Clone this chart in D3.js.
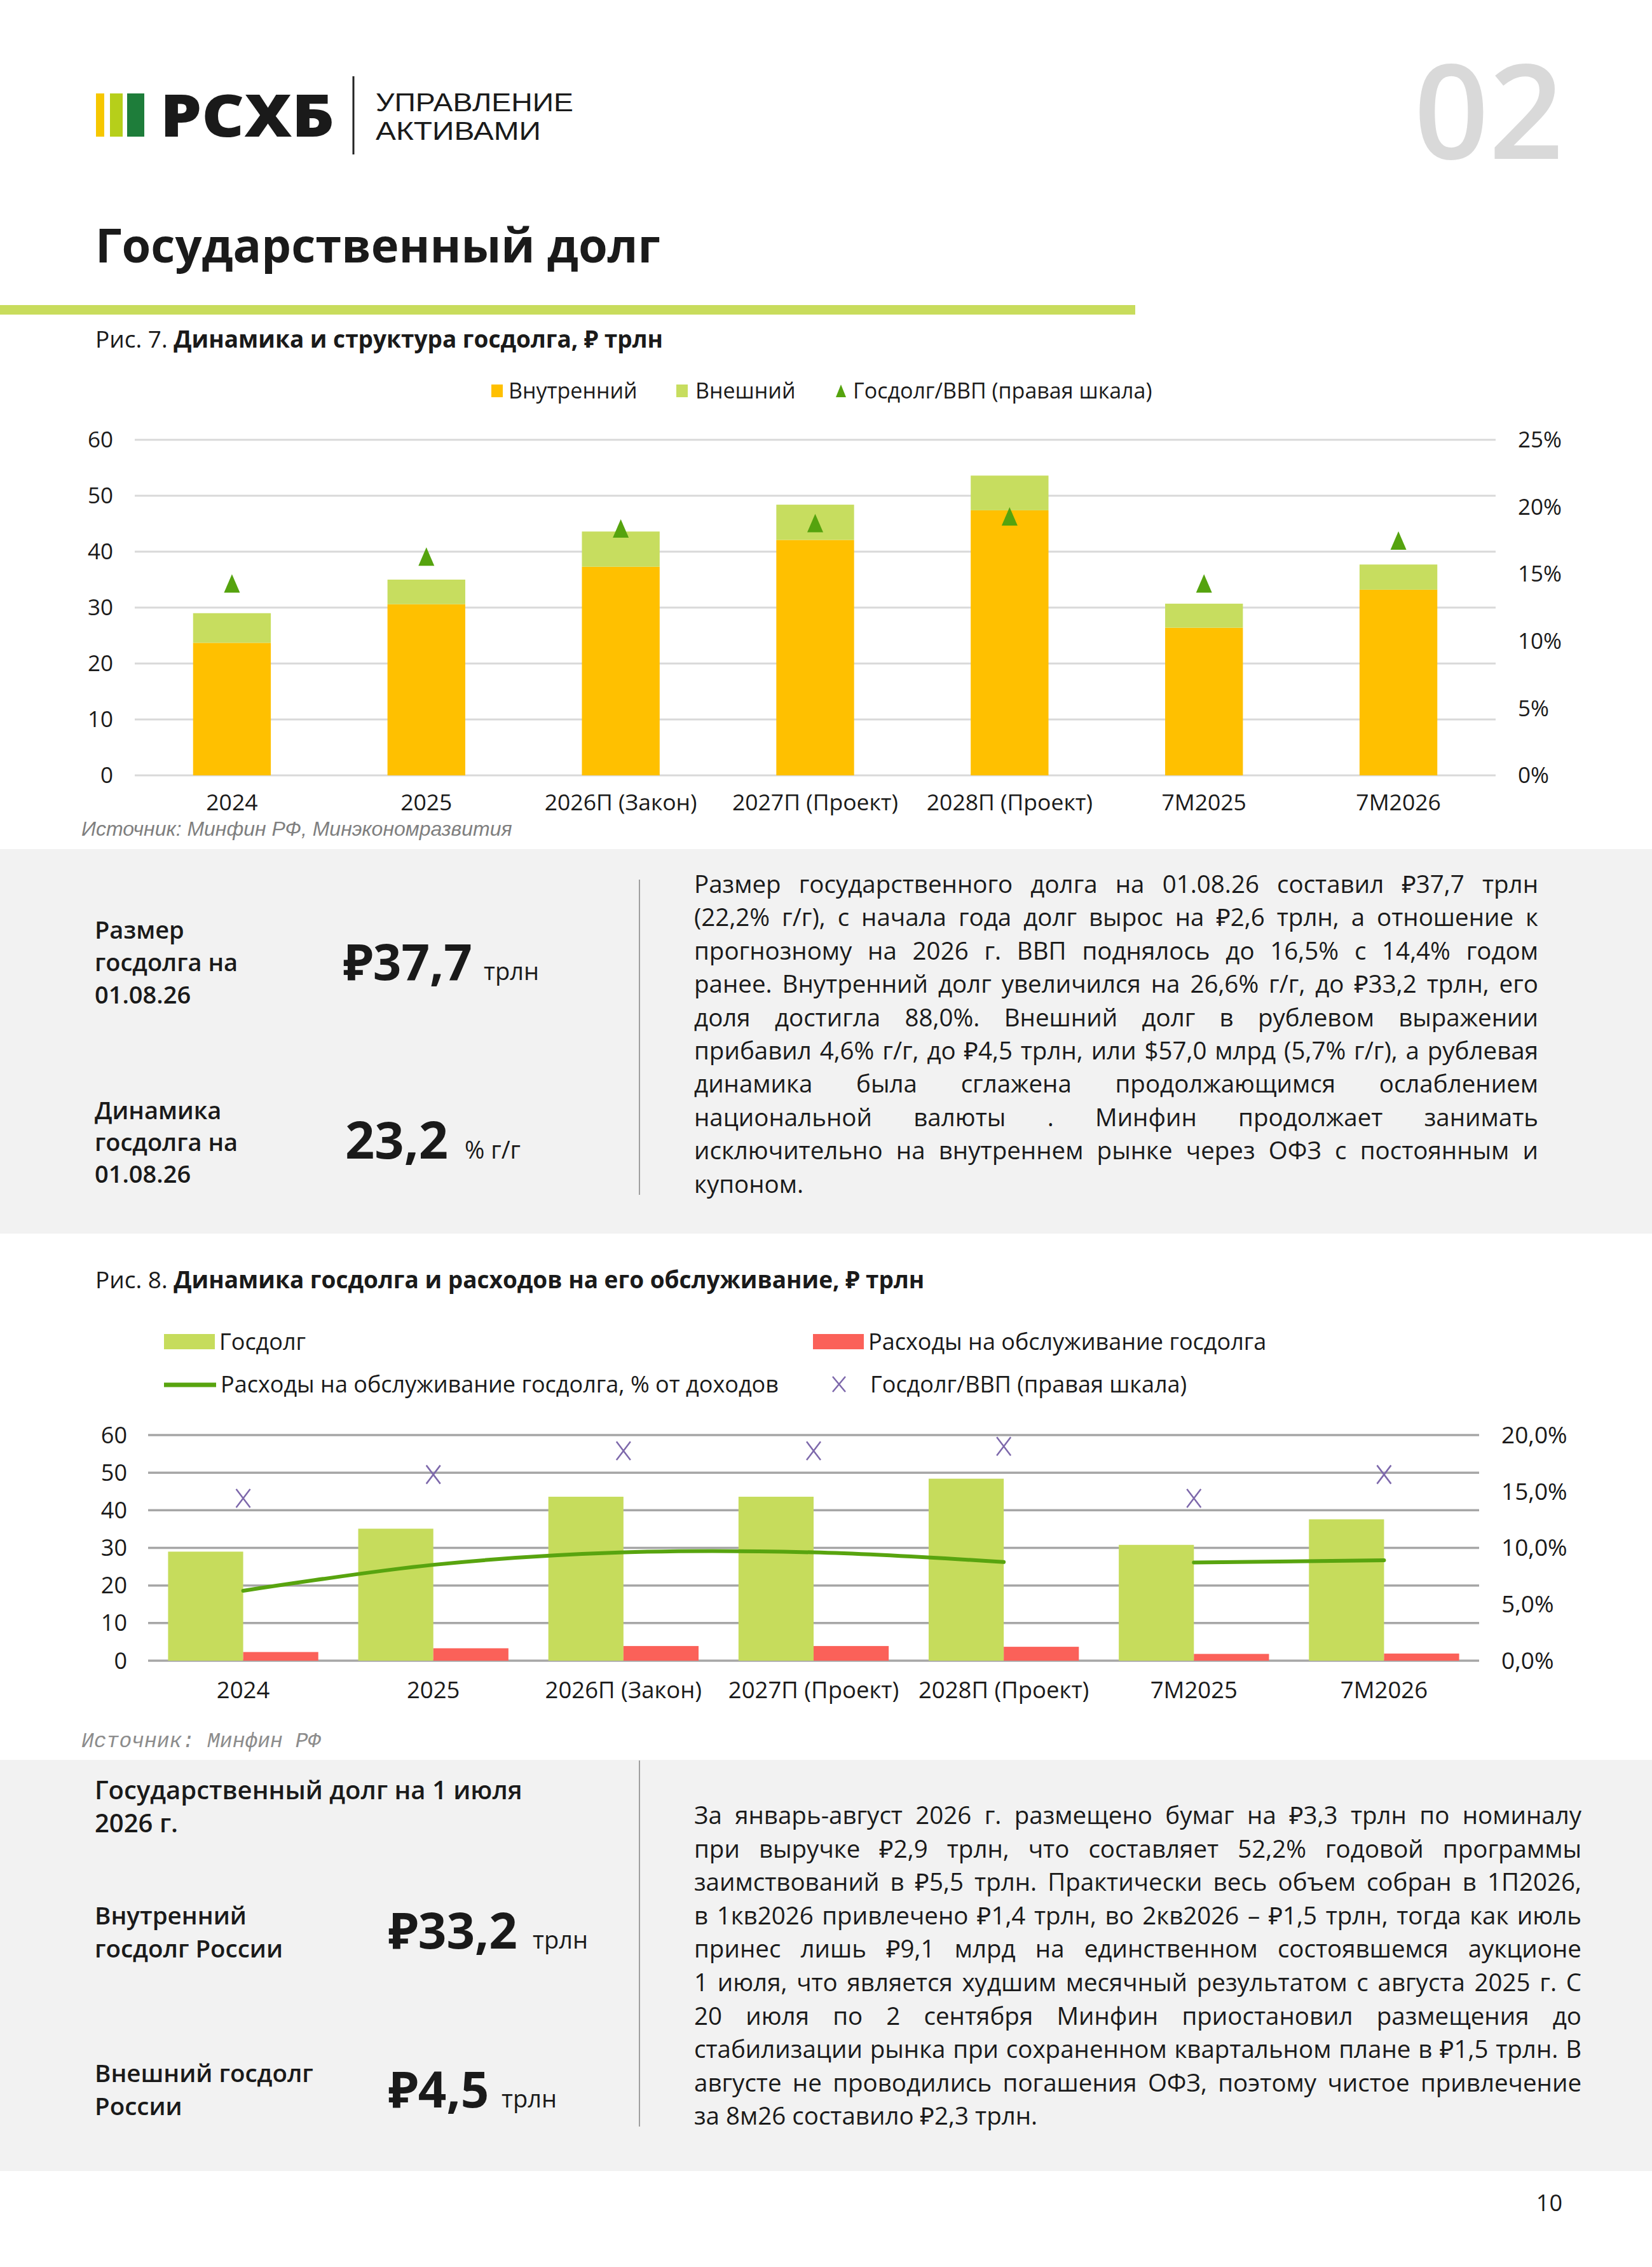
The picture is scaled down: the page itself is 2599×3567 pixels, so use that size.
<!DOCTYPE html>
<html><head><meta charset="utf-8">
<script src="https://cdn.jsdelivr.net/npm/d3@7"></script>
<style>
html,body{margin:0;padding:0;background:#fff;}
svg{display:block;}
text{font-family:"Open Sans","Noto Sans",sans-serif;fill:#1a1a1a;}
</style></head>
<body>
<script>
// ---------- DATA ----------
const categories = ["2024","2025","2026П (Закон)","2027П (Проект)","2028П (Проект)","7M2025","7M2026"];
// Fig 7
const domesticDebt = [23.7, 30.6, 37.3, 42.1, 47.4, 26.4, 33.2];
const externalDebt = [5.3, 4.4, 6.3, 6.3, 6.2, 4.3, 4.5];
const debtToGdp7 = [14.3, 16.3, 18.4, 18.8, 19.3, 14.3, 17.5];
const leftTicks7 = [0,10,20,30,40,50,60];
const rightTicks7 = [0,5,10,15,20,25];
// Fig 8
const totalDebt = [29.0, 35.1, 43.6, 43.6, 48.4, 30.8, 37.6];
const serviceCost = [2.3, 3.3, 3.9, 3.9, 3.7, 1.8, 1.9];
const servicePctRevenue = [6.2, 8.5, 9.6, 9.6, 8.75, null, null];
const servicePctRevenue2 = [null, null, null, null, null, 8.7, 8.9];
const debtToGdp8 = [14.4, 16.5, 18.6, 18.6, 19.0, 14.4, 16.5];
const leftTicks8 = [0,10,20,30,40,50,60];
const rightTicks8 = [0,5,10,15,20];

const para1 = [
"Размер государственного долга на 01.08.26 составил ₽37,7 трлн",
"(22,2% г/г), с начала года долг вырос на ₽2,6 трлн, а отношение к",
"прогнозному на 2026 г. ВВП поднялось до 16,5% с 14,4% годом",
"ранее. Внутренний долг увеличился на 26,6% г/г, до ₽33,2 трлн, его",
"доля достигла 88,0%. Внешний долг в рублевом выражении",
"прибавил 4,6% г/г, до ₽4,5 трлн, или $57,0 млрд (5,7% г/г), а рублевая",
"динамика была сглажена продолжающимся ослаблением",
"национальной валюты . Минфин продолжает занимать",
"исключительно на внутреннем рынке через ОФЗ с постоянным и",
"купоном."];
const para2 = [
"За январь-август 2026 г. размещено бумаг на ₽3,3 трлн по номиналу",
"при выручке ₽2,9 трлн, что составляет 52,2% годовой программы",
"заимствований в ₽5,5 трлн. Практически весь объем собран в 1П2026,",
"в 1кв2026 привлечено ₽1,4 трлн, во 2кв2026 – ₽1,5 трлн, тогда как июль",
"принес лишь ₽9,1 млрд на единственном состоявшемся аукционе",
"1 июля, что является худшим месячный результатом с августа 2025 г. С",
"20 июля по 2 сентября Минфин приостановил размещения до",
"стабилизации рынка при сохраненном квартальном плане в ₽1,5 трлн. В",
"августе не проводились погашения ОФЗ, поэтому чистое привлечение",
"за 8м26 составило ₽2,3 трлн."];

// ---------- SVG ----------
const W = 2599, H = 3567;
const svg = d3.select("body").append("svg").attr("width", W).attr("height", H);
svg.append("rect").attr("width", W).attr("height", H).attr("fill", "#fff");

// Header
svg.append("rect").attr("x",151).attr("y",147).attr("width",13).attr("height",68).attr("fill","#f6c700");
svg.append("rect").attr("x",173).attr("y",147).attr("width",20).attr("height",68).attr("fill","#b6cf1a");
svg.append("rect").attr("x",200).attr("y",147).attr("width",27).attr("height",68).attr("fill","#1e7d3a");
svg.append("text").attr("x",252).attr("y",215).attr("font-size",92).attr("font-weight",800)
  .attr("textLength",274).attr("lengthAdjust","spacingAndGlyphs").text("РСХБ");
svg.append("line").attr("x1",556).attr("x2",556).attr("y1",120).attr("y2",243).attr("stroke","#222").attr("stroke-width",3);
svg.append("text").attr("x",591).attr("y",175).attr("font-size",40).style("font-family","'Liberation Sans',Arial,sans-serif")
  .attr("textLength",311).attr("lengthAdjust","spacingAndGlyphs").attr("fill","#2a2a2a").text("УПРАВЛЕНИЕ");
svg.append("text").attr("x",591).attr("y",220).attr("font-size",40).style("font-family","'Liberation Sans',Arial,sans-serif")
  .attr("textLength",260).attr("lengthAdjust","spacingAndGlyphs").attr("fill","#2a2a2a").text("АКТИВАМИ");
svg.append("text").attr("x",2460).attr("y",250).attr("text-anchor","end").attr("font-size",206).attr("font-weight",600).style("fill","#d9d9d9").text("02");

svg.append("text").attr("x",150).attr("y",413).attr("font-size",74).attr("font-weight",700).text("Государственный долг");
svg.append("rect").attr("x",0).attr("y",480).attr("width",1786).attr("height",15).attr("fill","#c8dc5c");

// Fig 7 title
const t7 = svg.append("text").attr("x",150).attr("y",547).attr("font-size",37);
t7.append("tspan").text("Рис. 7. ");
t7.append("tspan").attr("font-weight",700).text("Динамика и структура госдолга, ₽ трлн");

// ---------- Chart 1 ----------
const YELLOW="#ffc000", LIME="#c7dd5f", TRI="#55a30e";
const x1 = d3.scaleBand().domain(categories).range([212,2353]).paddingInner(0.6).paddingOuter(0.3);
const y1 = d3.scaleLinear().domain([0,60]).range([1220,692]);
const y1r = d3.scaleLinear().domain([0,25]).range([1220,692]);
const c1 = svg.append("g");
c1.selectAll("line.grid").data(leftTicks7).join("line")
  .attr("x1",212).attr("x2",2353).attr("y1",d=>y1(d)).attr("y2",d=>y1(d))
  .attr("stroke","#d9d9d9").attr("stroke-width",3);
c1.selectAll("text.l").data(leftTicks7).join("text")
  .attr("x",178).attr("y",d=>y1(d)).attr("dy","0.35em").attr("text-anchor","end").attr("font-size",35).text(d=>d);
c1.selectAll("text.r").data(rightTicks7).join("text")
  .attr("x",2388).attr("y",d=>y1r(d)).attr("dy","0.35em").attr("font-size",35).text(d=>d+"%");
c1.selectAll("rect.dom").data(categories).join("rect")
  .attr("x",d=>x1(d)).attr("width",x1.bandwidth())
  .attr("y",(d,i)=>y1(domesticDebt[i])).attr("height",(d,i)=>y1(0)-y1(domesticDebt[i])).attr("fill",YELLOW);
c1.selectAll("rect.ext").data(categories).join("rect")
  .attr("x",d=>x1(d)).attr("width",x1.bandwidth())
  .attr("y",(d,i)=>y1(domesticDebt[i]+externalDebt[i])).attr("height",(d,i)=>y1(domesticDebt[i])-y1(domesticDebt[i]+externalDebt[i])).attr("fill",LIME);
const triPath = (cx,cy,w,h)=>`M${cx},${cy-h/2}L${cx+w/2},${cy+h/2}L${cx-w/2},${cy+h/2}Z`;
c1.selectAll("path.tri").data(categories).join("path")
  .attr("d",(d,i)=>triPath(x1(d)+x1.bandwidth()/2, y1r(debtToGdp7[i]), 25, 29)).attr("fill",TRI);
c1.selectAll("text.x").data(categories).join("text")
  .attr("x",d=>x1(d)+x1.bandwidth()/2).attr("y",1275).attr("text-anchor","middle").attr("font-size",35.5).text(d=>d);
// legend 1
const lg1 = svg.append("g");
lg1.append("rect").attr("x",773).attr("y",605).attr("width",18).attr("height",20).attr("fill",YELLOW);
lg1.append("text").attr("x",800).attr("y",627).attr("font-size",34).text("Внутренний");
lg1.append("rect").attr("x",1064).attr("y",605).attr("width",18).attr("height",20).attr("fill",LIME);
lg1.append("text").attr("x",1094).attr("y",627).attr("font-size",34).text("Внешний");
lg1.append("path").attr("d",triPath(1323,615,16,20)).attr("fill",TRI);
lg1.append("text").attr("x",1342).attr("y",627).attr("font-size",34).text("Госдолг/ВВП (правая шкала)");
svg.append("text").attr("x",128).attr("y",1315).attr("font-size",32).attr("font-style","italic")
  .style("font-family","'Liberation Sans',Arial,sans-serif").style("fill","#7f7f7f").text("Источник: Минфин РФ, Минэкономразвития");

// ---------- Panel 1 ----------
svg.append("rect").attr("x",0).attr("y",1336).attr("width",W).attr("height",605).attr("fill","#f2f2f2");
svg.append("line").attr("x1",1006).attr("x2",1006).attr("y1",1384).attr("y2",1880).attr("stroke","#a0a0a0").attr("stroke-width",2);
function multi(lines,x,y0,lh,fs,fw){
  lines.forEach((l,i)=>svg.append("text").attr("x",x).attr("y",y0+i*lh).attr("font-size",fs).attr("font-weight",fw).text(l));
}
multi(["Размер","госдолга на","01.08.26"],149,1477,51,38,600);
multi(["Динамика","госдолга на","01.08.26"],149,1761,50,38,600);
svg.append("text").attr("x",540).attr("y",1542).attr("font-size",78).attr("font-weight",700).text("₽37,7");
svg.append("text").attr("x",761).attr("y",1542).attr("font-size",38).attr("font-weight",500).text("трлн");
svg.append("text").attr("x",543).attr("y",1823).attr("font-size",81).attr("font-weight",700).text("23,2");
svg.append("text").attr("x",731).attr("y",1823).attr("font-size",38).attr("font-weight",500).text("% г/г");

function justify(lines,x,y0,w,lh,fs){
  const g = svg.append("g").attr("font-size",fs);
  const meas = g.append("text").attr("font-size",fs);
  lines.forEach((ln,i)=>{
    const y = y0+i*lh;
    const t = g.append("text").attr("y",y).attr("font-size",fs);
    if(i===lines.length-1){ t.attr("x",x).text(ln); return; }
    const words = ln.split(" ");
    const ws = words.map(wd=>{meas.text(wd);return meas.node().getComputedTextLength();});
    const sum = d3.sum(ws);
    const gap = (w-sum)/(words.length-1);
    if(gap < fs*0.16){
      t.attr("x",x).attr("textLength",w).attr("lengthAdjust","spacingAndGlyphs").text(ln);
    } else {
      let cx = x;
      words.forEach((wd,j)=>{ t.append("tspan").attr("x",cx).text(wd); cx += ws[j]+gap; });
    }
  });
  meas.remove();
}
justify(para1,1092,1405,1328,52.4,38.5);

// ---------- Fig 8 ----------
const t8 = svg.append("text").attr("x",150).attr("y",2027).attr("font-size",37);
t8.append("tspan").text("Рис. 8. ");
t8.append("tspan").attr("font-weight",700).text("Динамика госдолга и расходов на его обслуживание, ₽ трлн");

const GREENBAR="#c6dc5c", RED="#fb6159", LINEG="#58a40f", PURP="#7d68ab";
const lg2 = svg.append("g");
lg2.append("rect").attr("x",258).attr("y",2099).attr("width",80).attr("height",24).attr("fill",GREENBAR);
lg2.append("text").attr("x",345).attr("y",2124).attr("font-size",36).text("Госдолг");
lg2.append("rect").attr("x",1279).attr("y",2099).attr("width",80).attr("height",24).attr("fill",RED);
lg2.append("text").attr("x",1366).attr("y",2124).attr("font-size",36).text("Расходы на обслуживание госдолга");
lg2.append("line").attr("x1",258).attr("x2",340).attr("y1",2179).attr("y2",2179).attr("stroke",LINEG).attr("stroke-width",7);
lg2.append("text").attr("x",347).attr("y",2191).attr("font-size",36).text("Расходы на обслуживание госдолга, % от доходов");
const xMark = (cx,cy,w,h)=>`M${cx-w/2},${cy-h/2}L${cx+w/2},${cy+h/2}M${cx+w/2},${cy-h/2}L${cx-w/2},${cy+h/2}`;
lg2.append("path").attr("d",xMark(1320,2178,20,24)).attr("stroke",PURP).attr("stroke-width",2.5).attr("fill","none");
lg2.append("text").attr("x",1369).attr("y",2191).attr("font-size",36).text("Госдолг/ВВП (правая шкала)");

const x2 = d3.scaleBand().domain(categories).range([233,2327]).paddingInner(0.21).paddingOuter(0.105);
const y2 = d3.scaleLinear().domain([0,60]).range([2613,2258]);
const y2r = d3.scaleLinear().domain([0,20]).range([2613,2258]);
const c2 = svg.append("g");
c2.selectAll("line.grid").data(leftTicks8).join("line")
  .attr("x1",233).attr("x2",2327).attr("y1",d=>y2(d)).attr("y2",d=>y2(d))
  .attr("stroke","#a6a6a6").attr("stroke-width",3.5);
c2.selectAll("text.l").data(leftTicks8).join("text")
  .attr("x",200).attr("y",d=>y2(d)).attr("dy","0.35em").attr("text-anchor","end").attr("font-size",36).text(d=>d);
c2.selectAll("text.r").data(rightTicks8).join("text")
  .attr("x",2362).attr("y",d=>y2r(d)).attr("dy","0.35em").attr("font-size",37).text(d=>d.toFixed(1).replace(".",",")+"%");
const bw = x2.bandwidth()/2;
c2.selectAll("rect.g").data(categories).join("rect")
  .attr("x",d=>x2(d)).attr("width",bw).attr("y",(d,i)=>y2(totalDebt[i])).attr("height",(d,i)=>y2(0)-y2(totalDebt[i])).attr("fill",GREENBAR);
c2.selectAll("rect.rd").data(categories).join("rect")
  .attr("x",d=>x2(d)+bw).attr("width",bw).attr("y",(d,i)=>y2(serviceCost[i])).attr("height",(d,i)=>y2(0)-y2(serviceCost[i])).attr("fill",RED);
const cx2 = d=>x2(d)+x2.bandwidth()/2;
const lineGen = d3.line().defined(d=>d[1]!==null).x(d=>cx2(d[0])).y(d=>y2r(d[1])).curve(d3.curveCardinal.tension(0));
[servicePctRevenue, servicePctRevenue2].forEach(s=>{
  c2.append("path").datum(categories.map((c,i)=>[c,s[i]]).filter(d=>d[1]!==null))
    .attr("d",lineGen).attr("fill","none").attr("stroke",LINEG).attr("stroke-width",6).attr("stroke-linecap","round");
});
c2.selectAll("path.xm").data(categories).join("path")
  .attr("d",(d,i)=>xMark(cx2(d), y2r(debtToGdp8[i]), 22, 29)).attr("stroke",PURP).attr("stroke-width",2.5).attr("fill","none");
c2.selectAll("text.x").data(categories).join("text")
  .attr("x",d=>cx2(d)).attr("y",2672).attr("text-anchor","middle").attr("font-size",36.5).text(d=>d);
svg.append("text").attr("x",128).attr("y",2749).attr("font-size",33).attr("font-style","italic")
  .style("font-family","'Liberation Mono',monospace").style("fill","#8c8c8c").text("Источник: Минфин РФ");

// ---------- Panel 2 ----------
svg.append("rect").attr("x",0).attr("y",2769).attr("width",W).attr("height",647).attr("fill","#f2f2f2");
svg.append("line").attr("x1",1006).attr("x2",1006).attr("y1",2770).attr("y2",3346).attr("stroke","#a0a0a0").attr("stroke-width",2);
multi(["Государственный долг на 1 июля","2026 г."],149,2831,52,40,600);
multi(["Внутренний","госдолг России"],149,3028,52,38.5,600);
multi(["Внешний госдолг","России"],149,3276,52,38.5,600);
svg.append("text").attr("x",611).attr("y",3066).attr("font-size",78).attr("font-weight",700).text("₽33,2");
svg.append("text").attr("x",838).attr("y",3066).attr("font-size",38).attr("font-weight",500).text("трлн");
svg.append("text").attr("x",611).attr("y",3316).attr("font-size",78).attr("font-weight",700).text("₽4,5");
svg.append("text").attr("x",789).attr("y",3316).attr("font-size",38).attr("font-weight",500).text("трлн");
justify(para2,1092,2870,1396,52.6,38.5);

svg.append("text").attr("x",2458).attr("y",3479).attr("text-anchor","end").attr("font-size",36).text("10");
</script>
</body></html>
